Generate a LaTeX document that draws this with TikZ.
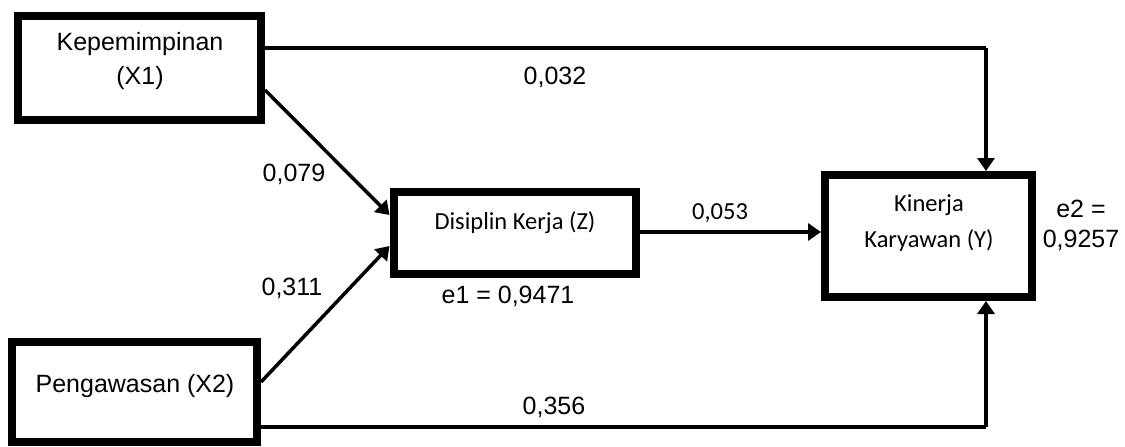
\documentclass[tikz,border=0pt]{standalone}
\usepackage{fontspec}
\setmainfont{Liberation Sans}
\newfontfamily\calib{Carlito}
\usetikzlibrary{arrows.meta,calc}
\tikzset{
  var/.style={draw=black, line width=8pt, fill=white, inner sep=0pt},
  conn/.style={line width=3.5pt, -{Triangle[length=13pt,width=17pt]}},
  plain/.style={line width=3.5pt},
  lbl/.style={inner sep=0pt, font=\fontsize{25}{30}\selectfont, align=center},
  clbl/.style={inner sep=0pt, font=\calib\fontsize{24.5}{36}\selectfont, align=center},
}
\begin{document}
\begin{tikzpicture}[x=1pt, y=-1pt]
\useasboundingbox (0,0) rectangle (1125,447);

% latent variables
\node[var, minimum width=243pt, minimum height=104pt] (X1) at (139.5,68) {};
\node[var, minimum width=245pt, minimum height=100pt] (X2) at (134.5,392) {};
\node[var, minimum width=242pt, minimum height=82pt] (Z) at (514.5,232.5) {};
\node[var, minimum width=207pt, minimum height=122pt] (Y) at (928.5,236) {};

% box captions
\node[lbl, font=\fontsize{25}{34}\selectfont] (tX1) at (140,61) {Kepemimpinan\\(X1)};
\node[lbl] (tX2) at (135,386) {Pengawasan (X2)};
\node[clbl] (tZ) at (515,223) {Disiplin Kerja (Z)};
\node[clbl] (tY) at (929,223) {Kinerja\\Karyawan (Y)};

% routing corners
\coordinate (c1) at (986,48);
\coordinate (c2) at (986,427);

% paths
\draw[plain] (X1.east |- c1) -- (c1);
\draw[conn] (c1) -- (Y.north -| c1);
\draw[plain] (X2.east |- c2) -- (c2);
\draw[conn] (c2) -- (Y.south -| c2);
\draw[conn] (X1.east |- 0,90) -- (Z.west |- 0,215);
\draw[conn] (X2.east |- 0,382) -- (Z.west |- 0,246);
\draw[conn] (Z.east |- 0,232) -- (Y.west |- 0,232);

% path coefficients
\node[lbl] (p032) at (555,77) {0,032};
\node[lbl] (p079) at (294,174) {0,079};
\node[lbl] (p311) at (292,288) {0,311};
\node[lbl] (p356) at (554,407) {0,356};
\node[clbl] (p053) at (720,213) {0,053};

% residuals
\node[lbl] (e1) at (508,296) {e1 = 0,9471};
\node[lbl] (e2) at (1081,225) {e2 =\\0,9257};
\end{tikzpicture}
\end{document}
